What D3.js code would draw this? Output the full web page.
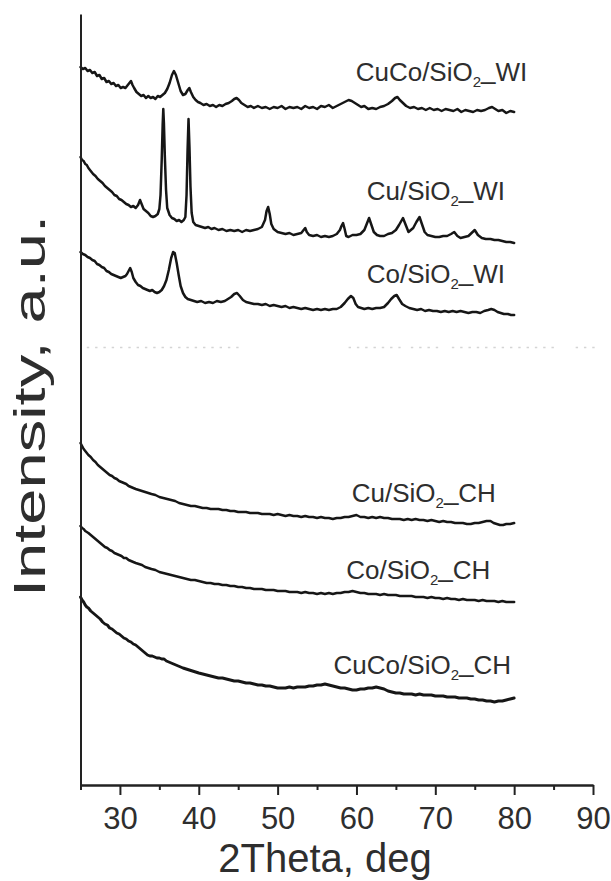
<!DOCTYPE html>
<html>
<head>
<meta charset="utf-8">
<script src="https://cdn.jsdelivr.net/npm/d3@7"></script>
<style>
  html, body { margin: 0; padding: 0; background: #fff; }
  svg { display: block; }
</style>
</head>
<body>
<svg id="chart" width="611" height="881"></svg>
<script>
// XRD patterns, [2θ (deg), intensity (a.u., stacked offsets included)]
const cuCoWI = [[25.0,718],[25.3,716],[25.6,717],[25.9,714],[26.2,715],[26.5,712],[26.8,713],[27.1,709],[27.4,710],[27.7,706],[28.0,707],[28.3,703],[28.6,704],[28.9,701],[29.2,702],[29.5,699],[29.8,700],[30.1,697],[30.4,698],[30.7,697],[31.0,700],[31.2,702],[31.4,704],[31.6,700],[31.8,697],[32.1,693],[32.4,691],[32.7,689],[33.0,690],[33.3,687],[33.6,689],[33.9,687],[34.2,688],[34.5,686],[34.8,689],[35.1,688],[35.4,690],[35.7,692],[36.0,696],[36.3,702],[36.6,710],[36.85,714],[37.1,710],[37.4,702],[37.7,694],[38.0,690],[38.3,691],[38.6,695],[38.8,697],[39.0,693],[39.3,688],[39.6,685],[39.9,683],[40.2,682],[40.6,680],[41.0,681],[41.4,679],[41.8,680],[42.2,678],[42.6,680],[43.0,679],[43.4,681],[43.8,682],[44.2,684],[44.5,686],[44.8,687],[45.1,685],[45.4,682],[45.8,680],[46.2,678],[46.6,679],[47.0,677],[47.5,679],[48.0,677],[48.5,678],[49.0,676],[49.5,678],[50.0,677],[50.5,679],[51.0,676],[51.5,678],[52.0,677],[52.5,678],[53.0,676],[53.5,679],[54.0,677],[54.5,678],[55.0,676],[55.5,679],[56.0,678],[56.5,680],[57.0,677],[57.5,679],[58.0,681],[58.5,683],[59.0,685],[59.4,684],[59.8,682],[60.2,680],[60.6,678],[61.0,679],[61.5,676],[62.0,677],[62.5,676],[63.0,678],[63.5,679],[64.0,681],[64.5,684],[64.9,687],[65.2,688],[65.5,685],[65.9,682],[66.3,679],[66.8,677],[67.3,678],[67.8,676],[68.3,677],[68.8,675],[69.3,677],[69.8,675],[70.3,676],[70.8,674],[71.3,676],[71.8,675],[72.3,674],[72.8,676],[73.3,673],[73.8,675],[74.3,674],[74.8,673],[75.3,675],[75.8,674],[76.3,675],[76.8,677],[77.2,678],[77.6,676],[78.0,674],[78.5,675],[79.0,672],[79.5,674],[80.0,673]];

const cuWI = [[25.0,628],[25.2,625],[25.4,624],[25.6,621],[25.8,620],[26.0,617],[26.3,614],[26.6,611],[26.9,609],[27.2,606],[27.5,604],[27.8,602],[28.1,599],[28.4,597],[28.7,595],[29.0,593],[29.3,590],[29.6,589],[29.9,586],[30.2,585],[30.5,583],[30.8,581],[31.1,580],[31.4,578],[31.7,579],[32.0,577],[32.3,580],[32.55,585],[32.75,581],[33.0,576],[33.3,574],[33.6,572],[33.9,569],[34.2,568],[34.5,569],[34.8,571],[35.0,576],[35.15,590],[35.3,625],[35.42,660],[35.5,676],[35.58,662],[35.7,628],[35.85,595],[36.0,577],[36.3,570],[36.6,567],[36.9,566],[37.2,564],[37.5,565],[37.8,563],[38.1,565],[38.3,568],[38.45,590],[38.58,635],[38.7,666],[38.82,638],[38.95,598],[39.1,572],[39.3,563],[39.6,560],[40.0,559],[40.4,558],[40.8,557],[41.2,558],[41.6,556],[42.0,557],[42.5,555],[43.0,556],[43.5,554],[44.0,555],[44.5,554],[45.0,555],[45.5,553],[46.0,555],[46.5,554],[47.0,555],[47.5,556],[48.0,558],[48.4,565],[48.6,574],[48.8,578],[49.0,571],[49.2,561],[49.5,556],[50.0,553],[50.5,552],[51.0,551],[51.5,552],[52.0,550],[52.5,551],[53.0,552],[53.3,555],[53.5,557],[53.7,553],[54.0,550],[54.5,549],[55.0,550],[55.5,548],[56.0,549],[56.5,548],[57.0,549],[57.5,551],[57.9,555],[58.1,559],[58.3,562],[58.5,556],[58.7,549],[59.0,548],[59.5,550],[60.0,550],[60.5,551],[61.0,555],[61.3,561],[61.6,567],[61.9,560],[62.2,553],[62.6,550],[63.0,549],[63.5,549],[64.0,551],[64.5,552],[65.0,555],[65.4,560],[65.9,567],[66.3,559],[66.6,553],[66.9,555],[67.2,557],[67.6,563],[68.0,568],[68.3,561],[68.65,553],[69.0,550],[69.5,549],[70.0,548],[70.5,548],[71.0,549],[71.5,549],[72.0,551],[72.4,553],[72.8,549],[73.2,547],[73.7,548],[74.2,549],[74.6,552],[75.0,555],[75.4,550],[75.9,547],[76.4,546],[77.0,546],[77.5,545],[78.0,545],[78.5,544],[79.0,543],[79.5,543],[80.0,542]];

const coWI = [[25.0,533],[25.3,531],[25.6,530],[25.9,528],[26.2,527],[26.5,525],[26.8,524],[27.1,521],[27.4,520],[27.7,518],[28.0,517],[28.3,514],[28.6,513],[28.9,511],[29.2,510],[29.5,509],[29.8,508],[30.1,507],[30.4,508],[30.7,509],[30.9,511],[31.1,514],[31.3,517],[31.5,513],[31.7,507],[32.0,503],[32.3,500],[32.6,499],[32.9,497],[33.2,496],[33.5,495],[33.8,494],[34.1,495],[34.4,493],[34.7,492],[35.0,493],[35.3,495],[35.6,499],[35.9,505],[36.2,515],[36.5,527],[36.75,533],[36.95,532],[37.2,522],[37.45,510],[37.7,499],[38.0,492],[38.3,488],[38.6,486],[39.0,485],[39.4,484],[39.8,483],[40.3,484],[40.8,482],[41.3,483],[41.8,482],[42.3,484],[42.8,483],[43.3,484],[43.7,486],[44.1,488],[44.5,491],[44.85,492],[45.2,489],[45.6,485],[46.0,483],[46.5,482],[47.0,481],[47.5,481],[48.0,480],[48.5,481],[49.0,479],[49.5,480],[50.0,479],[50.5,478],[51.0,479],[51.5,477],[52.0,478],[52.5,477],[53.0,476],[53.5,477],[54.0,476],[54.5,475],[55.0,476],[55.5,475],[56.0,476],[56.5,475],[57.0,476],[57.5,476],[58.0,478],[58.5,482],[58.9,486],[59.3,489],[59.6,487],[59.9,481],[60.2,478],[60.6,477],[61.0,476],[61.5,477],[62.0,476],[62.5,477],[63.0,477],[63.5,478],[64.0,482],[64.4,486],[64.8,489],[65.1,490],[65.4,486],[65.8,481],[66.2,479],[66.7,477],[67.2,476],[67.7,475],[68.2,476],[68.7,474],[69.2,475],[69.7,474],[70.2,474],[70.7,473],[71.2,474],[71.7,473],[72.2,474],[72.7,473],[73.2,474],[73.7,473],[74.2,472],[74.7,473],[75.2,473],[75.7,472],[76.2,474],[76.7,475],[77.1,476],[77.5,475],[77.9,473],[78.3,472],[78.7,471],[79.2,471],[79.6,470],[80.0,470]];

const cuCH = [[25.0,342],[25.2,339],[25.4,336],[25.6,334],[25.8,332],[26.0,330],[26.3,328],[26.6,325],[26.9,323],[27.2,320],[27.5,318],[27.8,316],[28.1,314],[28.4,312],[28.7,310],[29.0,309],[29.3,307],[29.6,306],[29.9,304],[30.2,303],[30.5,302],[30.8,301],[31.1,299],[31.4,298],[31.7,297],[32.0,296],[32.4,295],[32.8,294],[33.2,293],[33.6,292],[34.0,291],[34.5,290],[35.0,288],[35.5,287],[36.0,286],[36.5,285],[37.0,284],[37.5,282],[38.0,281],[38.5,280],[39.0,279],[39.5,279],[40.0,278],[40.5,277],[41.0,277],[41.5,276],[42.0,276],[42.5,276],[43.0,275],[43.5,275],[44.0,274],[44.5,274],[45.0,273],[45.5,273],[46.0,273],[46.5,272],[47.0,272],[47.5,272],[48.0,271],[48.5,271],[49.0,271],[49.5,270],[50.0,271],[50.5,270],[51.0,269],[51.5,270],[52.0,269],[52.5,269],[53.0,268],[53.5,269],[54.0,268],[54.5,268],[55.0,267],[55.5,268],[56.0,267],[56.5,267],[57.0,266],[57.5,267],[58.0,267],[58.5,268],[59.0,268],[59.5,269],[60.0,270],[60.5,268],[61.0,268],[61.5,267],[62.0,268],[62.5,267],[63.0,268],[63.5,267],[64.0,267],[64.5,266],[65.0,266],[65.5,266],[66.0,265],[66.5,266],[67.0,265],[67.5,266],[68.0,265],[68.5,265],[69.0,264],[69.5,265],[70.0,264],[70.5,263],[71.0,264],[71.5,263],[72.0,263],[72.5,262],[73.0,262],[73.5,262],[74.0,261],[74.5,261],[75.0,262],[75.5,262],[76.0,263],[76.5,264],[77.0,264],[77.4,262],[77.8,261],[78.2,260],[78.6,260],[79.0,261],[79.5,261],[80.0,262]];

const coCH = [[25.0,259],[25.2,257],[25.4,256],[25.6,254],[25.8,253],[26.0,252],[26.3,250],[26.6,248],[26.9,246],[27.2,244],[27.5,242],[27.8,240],[28.1,238],[28.4,237],[28.7,235],[29.0,234],[29.3,232],[29.6,231],[29.9,230],[30.2,229],[30.5,227],[30.8,227],[31.1,225],[31.4,224],[31.7,223],[32.0,222],[32.4,221],[32.8,220],[33.2,218],[33.6,217],[34.0,216],[34.5,215],[35.0,213],[35.5,212],[36.0,211],[36.5,210],[37.0,209],[37.5,208],[38.0,207],[38.5,206],[39.0,205],[39.5,205],[40.0,204],[40.5,203],[41.0,202],[41.5,202],[42.0,201],[42.5,201],[43.0,200],[43.5,200],[44.0,199],[44.5,199],[45.0,198],[45.5,198],[46.0,197],[46.5,197],[47.0,196],[47.5,196],[48.0,196],[48.5,195],[49.0,195],[49.5,195],[50.0,194],[50.5,194],[51.0,194],[51.5,193],[52.0,193],[52.5,193],[53.0,192],[53.5,193],[54.0,192],[54.5,192],[55.0,191],[55.5,192],[56.0,191],[56.5,192],[57.0,191],[57.5,192],[58.0,192],[58.5,193],[59.0,193],[59.5,194],[60.0,193],[60.5,192],[61.0,192],[61.5,191],[62.0,191],[62.5,191],[63.0,190],[63.5,191],[64.0,190],[64.5,190],[65.0,190],[65.5,189],[66.0,189],[66.5,189],[67.0,189],[67.5,188],[68.0,188],[68.5,188],[69.0,187],[69.5,188],[70.0,187],[70.5,187],[71.0,186],[71.5,187],[72.0,186],[72.5,186],[73.0,185],[73.5,186],[74.0,185],[74.5,185],[75.0,185],[75.5,184],[76.0,185],[76.5,184],[77.0,184],[77.5,184],[78.0,183],[78.5,184],[79.0,183],[79.5,183],[80.0,183]];

const cuCoCH = [[25.0,188],[25.2,185],[25.4,183],[25.6,180],[25.8,178],[26.0,177],[26.3,174],[26.6,172],[26.9,170],[27.2,168],[27.5,166],[27.8,163],[28.1,161],[28.4,160],[28.7,157],[29.0,156],[29.3,154],[29.6,152],[29.9,151],[30.2,149],[30.5,147],[30.8,146],[31.1,144],[31.4,143],[31.7,141],[32.0,140],[32.3,138],[32.6,136],[32.9,134],[33.2,132],[33.5,130],[33.8,129],[34.1,129],[34.4,128],[34.7,127],[35.0,127],[35.3,126],[35.6,126],[35.9,124],[36.2,123],[36.5,122],[36.8,121],[37.1,120],[37.4,119],[37.7,118],[38.0,117],[38.4,116],[38.8,115],[39.2,114],[39.6,113],[40.0,112],[40.5,111],[41.0,110],[41.5,109],[42.0,108],[42.5,107],[43.0,107],[43.5,106],[44.0,105],[44.5,104],[45.0,104],[45.5,103],[46.0,102],[46.5,102],[47.0,101],[47.5,100],[48.0,100],[48.5,99],[49.0,99],[49.5,98],[50.0,97],[50.5,97],[51.0,97],[51.5,98],[52.0,97],[52.5,98],[53.0,98],[53.5,98],[54.0,99],[54.5,99],[55.0,100],[55.5,100],[56.0,101],[56.5,100],[57.0,99],[57.5,98],[58.0,97],[58.5,97],[59.0,96],[59.5,95],[60.0,95],[60.5,96],[61.0,96],[61.5,97],[62.0,97],[62.5,98],[63.0,97],[63.5,96],[64.0,94],[64.5,93],[65.0,92],[65.5,92],[66.0,91],[66.5,91],[67.0,91],[67.5,90],[68.0,91],[68.5,90],[69.0,90],[69.5,90],[70.0,89],[70.5,89],[71.0,89],[71.5,88],[72.0,88],[72.5,88],[73.0,87],[73.5,87],[74.0,87],[74.5,86],[75.0,86],[75.5,85],[76.0,85],[76.5,84],[77.0,84],[77.5,83],[78.0,84],[78.5,84],[79.0,85],[79.5,86],[80.0,87]];

const sampleNames = ["CuCo/SiO2_WI", "Cu/SiO2_WI", "Co/SiO2_WI", "Cu/SiO2_CH", "Co/SiO2_CH", "CuCo/SiO2_CH"];
const patterns = [cuCoWI, cuWI, coWI, cuCH, coCH, cuCoCH];

// axis ticks
const majorTicks = [30, 40, 50, 60, 70, 80, 90];
const minorTicks = [25, 35, 45, 55, 65, 75, 85];

// faint dotted separator between the WI and CH groups: [2θ from, 2θ to]
const separatorLevel = 437.5;
const separatorSpans = [[25.8, 45.7], [59.0, 65.6], [66.9, 70.8], [72.1, 85.2], [87.8, 90.4]];

// ---- layout ----
const plot = { left: 80.5, right: 593, top: 14, bottom: 785 };
// label anchor for each pattern, in data units [2θ, intensity]
const labelAnchors = [[59.9, 704], [61.3, 585], [61.3, 502], [59.4, 283], [58.7, 206.5], [57.1, 111.5]];

const svg = d3.select("#chart");
const x = d3.scaleLinear().domain([25, 90]).range([plot.left, plot.right]);
const y = d3.scaleLinear().domain([0, 771]).range([plot.bottom, plot.top]);

const fontFamily = "'Liberation Sans', Arial, Helvetica, sans-serif";
const textColor = "#2e2e2e";

// separator
svg.append("g")
  .selectAll("line")
  .data(separatorSpans)
  .join("line")
  .attr("x1", d => x(d[0]))
  .attr("x2", d => x(d[1]))
  .attr("y1", y(separatorLevel))
  .attr("y2", y(separatorLevel))
  .attr("stroke", "#d4d4d4")
  .attr("stroke-width", 1.5)
  .attr("stroke-dasharray", "2.4,5.9");

// patterns
const line = d3.line().x(d => x(d[0])).y(d => y(d[1]));
svg.append("g")
  .selectAll("path")
  .data(patterns)
  .join("path")
  .attr("d", line)
  .attr("fill", "none")
  .attr("stroke", "#161616")
  .attr("stroke-width", (d, i) => i === 5 ? 2.9 : 2.5)
  .attr("stroke-linejoin", "round")
  .attr("stroke-linecap", "round");

// axes
const xAxisG = svg.append("g").attr("transform", `translate(0,${plot.bottom})`);
xAxisG.append("g")
  .call(d3.axisBottom(x).tickValues(minorTicks).tickSize(5).tickSizeOuter(0).tickFormat(""));
xAxisG.append("g")
  .call(d3.axisBottom(x).tickValues(majorTicks).tickSize(10).tickSizeOuter(0).tickPadding(12).tickFormat(d3.format("d")));
xAxisG.selectAll("path.domain").attr("stroke", "#222").attr("stroke-width", 2);
xAxisG.selectAll(".tick line").attr("stroke", "#222").attr("stroke-width", 2);
xAxisG.selectAll(".tick text")
  .attr("fill", textColor)
  .style("font-family", fontFamily)
  .style("font-size", "31px");

const yAxisG = svg.append("g").attr("transform", `translate(${plot.left},0)`)
  .call(d3.axisLeft(y).tickValues([]).tickSizeOuter(0));
yAxisG.select("path.domain").attr("stroke", "#222").attr("stroke-width", 2);

// axis titles
svg.append("text")
  .attr("x", 325)
  .attr("y", 872)
  .attr("text-anchor", "middle")
  .attr("fill", textColor)
  .style("font-family", fontFamily)
  .style("font-size", "40px")
  .text("2Theta, deg");

svg.append("text")
  .attr("transform", "translate(45,406) rotate(-90)")
  .attr("text-anchor", "middle")
  .attr("fill", textColor)
  .attr("textLength", 382)
  .attr("lengthAdjust", "spacingAndGlyphs")
  .style("font-family", fontFamily)
  .style("font-size", "45px")
  .text("Intensity, a.u.");

// sample labels with subscript in SiO2
const labels = svg.append("g")
  .style("font-family", fontFamily)
  .style("font-size", "26px")
  .attr("fill", textColor);

sampleNames.forEach((name, i) => {
  const [head, tail] = name.split("O2");
  const t = labels.append("text")
    .attr("x", x(labelAnchors[i][0]))
    .attr("y", y(labelAnchors[i][1]));
  t.append("tspan").text(head + "O");
  t.append("tspan").attr("dy", 6).style("font-size", "15px").text("2");
  t.append("tspan").attr("dy", -8).text(tail.slice(0, 1));
  t.append("tspan").attr("dy", 2).text(tail.slice(1));
});
</script>
</body>
</html>
